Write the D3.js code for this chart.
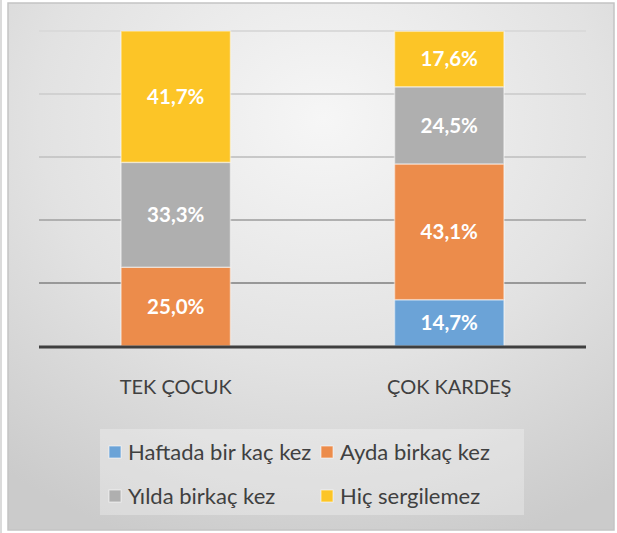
<!DOCTYPE html>
<html>
<head>
<meta charset="utf-8">
<script src="https://cdn.jsdelivr.net/npm/d3@7/dist/d3.min.js"></script>
<style>
  html, body { margin: 0; padding: 0; background: #fff; }
  svg { display: block; font-family: Lato, "Open Sans", sans-serif; }
</style>
</head>
<body>
<svg id="chart" width="617" height="533"></svg>
<script>
// Categories, series and values (percent of each group)
const categories = ["TEK ÇOCUK", "ÇOK KARDEŞ"];
const seriesNames = ["Haftada bir kaç kez", "Ayda birkaç kez", "Yılda birkaç kez", "Hiç sergilemez"];
const haftada = [0, 14.7];
const ayda = [25.0, 43.1];
const yilda = [33.3, 24.5];
const hic = [41.7, 17.6];
const gridTicks = [20, 40, 60, 80, 100];

const seriesColors = ["#6ba3d7", "#ec8c4b", "#afafaf", "#fcc527"];
const seriesValues = [haftada, ayda, yilda, hic];

const rows = categories.map((c, i) => {
  const r = { category: c };
  seriesNames.forEach((s, k) => { r[s] = seriesValues[k][i]; });
  return r;
});

const svg = d3.select("#chart");
const defs = svg.append("defs");

// soft radial background of the chart area
const bg = defs.append("radialGradient").attr("id", "bgGrad")
  .attr("cx", "52%").attr("cy", "22%").attr("r", "85%");
bg.append("stop").attr("offset", "0%").attr("stop-color", "#f6f6f6");
bg.append("stop").attr("offset", "55%").attr("stop-color", "#e2e2e2");
bg.append("stop").attr("offset", "100%").attr("stop-color", "#cbcbcb");

const plot = { left: 39, right: 586, top: 31, bottom: 346 };

// gridlines fade from light at the top to darker near the axis
const gg = defs.append("linearGradient").attr("id", "gridGrad")
  .attr("gradientUnits", "userSpaceOnUse")
  .attr("x1", 0).attr("x2", 0).attr("y1", plot.top).attr("y2", plot.bottom);
gg.append("stop").attr("offset", "0%").attr("stop-color", "#dadada");
gg.append("stop").attr("offset", "40%").attr("stop-color", "#c8c8c8");
gg.append("stop").attr("offset", "100%").attr("stop-color", "#808080");

// page edge line and chart frame
svg.append("line").attr("x1", 1).attr("x2", 1).attr("y1", 0).attr("y2", 533)
  .attr("stroke", "#cfcfcf").attr("stroke-width", 1.5);
svg.append("rect").attr("x", 8).attr("y", 3).attr("width", 606).attr("height", 527)
  .attr("fill", "url(#bgGrad)").attr("stroke", "#c4c4c4").attr("stroke-width", 1.5);

const x = d3.scaleBand().domain(categories)
  .range([plot.left, plot.right]).paddingInner(0.6).paddingOuter(0.3);
const y = d3.scaleLinear().domain([0, 100]).range([plot.bottom, plot.top]);

// gridlines
svg.append("g").selectAll("line").data(gridTicks).join("line")
  .attr("x1", plot.left).attr("x2", plot.right)
  .attr("y1", d => y(d)).attr("y2", d => y(d))
  .attr("stroke", "url(#gridGrad)").attr("stroke-width", 2);

// stacked bars
const stack = d3.stack().keys(seriesNames)(rows);
const layers = svg.append("g").selectAll("g").data(stack).join("g")
  .attr("fill", (d, i) => seriesColors[i]);

layers.selectAll("rect").data(d => d.filter(p => p[1] - p[0] > 0)).join("rect")
  .attr("x", d => x(d.data.category))
  .attr("width", x.bandwidth())
  .attr("y", d => y(d[1]))
  .attr("height", d => y(d[0]) - y(d[1]))
  .attr("stroke", "rgba(255,255,255,0.45)")
  .attr("stroke-width", 1.5);

// value labels
const fmt = v => v.toFixed(1).replace(".", ",") + "%";
layers.selectAll("text").data(d => d.filter(p => p[1] - p[0] > 0).map(p => ({ p, key: d.key }))).join("text")
  .attr("x", d => x(d.p.data.category) + x.bandwidth() / 2)
  .attr("y", d => (y(d.p[0]) + y(d.p[1])) / 2)
  .attr("dy", "0.36em")
  .attr("text-anchor", "middle")
  .attr("fill", "#ffffff")
  .attr("font-weight", 700)
  .attr("font-size", 20.5)
  .text(d => fmt(d.p.data[d.key]));

// category axis
const xAxis = svg.append("g").attr("transform", `translate(0,${plot.bottom + 1})`)
  .call(d3.axisBottom(x).tickSize(0).tickPadding(33));
xAxis.select(".domain").attr("stroke", "#3f3f3f").attr("stroke-width", 3)
  .attr("d", `M${plot.left},0H${plot.right}`);
xAxis.selectAll("text").attr("font-size", 20).attr("fill", "#404040")
  .attr("font-family", "Lato, 'Open Sans', sans-serif");

// legend
const legend = svg.append("g");
legend.append("rect").attr("x", 100).attr("y", 429).attr("width", 424).attr("height", 86)
  .attr("fill", "rgba(255,255,255,0.28)");
const legendPos = [[109, 452], [321, 452], [109, 496], [321, 496]];
const items = legend.selectAll("g.item").data(seriesNames).join("g").attr("class", "item")
  .attr("transform", (d, i) => `translate(${legendPos[i][0]},${legendPos[i][1]})`);
items.append("rect").attr("x", 0).attr("y", -6).attr("width", 12).attr("height", 12)
  .attr("fill", (d, i) => seriesColors[i])
  .attr("stroke", "rgba(255,255,255,0.6)").attr("stroke-width", 1);
items.append("text").attr("x", 19).attr("dy", "0.36em")
  .attr("font-size", 22).attr("fill", "#404040").text(d => d);
</script>
</body>
</html>
